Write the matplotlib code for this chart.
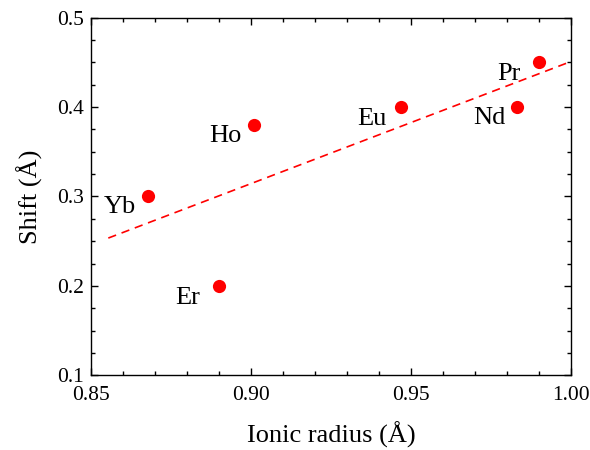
import matplotlib
matplotlib.use("Agg")
import matplotlib.pyplot as plt
from matplotlib.ticker import MultipleLocator, FormatStrFormatter

plt.rcParams['font.family'] = ['Liberation Serif', 'DejaVu Serif']

elements = ["Yb", "Er", "Ho", "Eu", "Nd", "Pr"]
ionic_radius = [0.868, 0.890, 0.901, 0.947, 0.983, 0.990]
shift = [0.30, 0.20, 0.38, 0.40, 0.40, 0.45]
# label offsets (points): dx to right edge, dy to baseline
label_dx = [-8.6, -13.7, -8.6, -10.5, -8.1, -13.5]
label_dy = [-11.7, -13.2, -12.5, -13.2, -12.5, -12.7]

fit_x = [0.8555, 1.0]
fit_y = [0.2535, 0.451]

fig = plt.figure(figsize=(5.9, 4.5), dpi=100)
ax = fig.add_axes([0.1537, 0.166, 0.8141, 0.7947])

ax.plot(fit_x, fit_y, color='#ff0000', lw=1.2, linestyle=(0, (5, 3.5)), zorder=2)
ax.plot(ionic_radius, shift, 'o', color='#ff0000', markersize=9.5, markeredgewidth=0, zorder=3)

for el, x, y, dx, dy in zip(elements, ionic_radius, shift, label_dx, label_dy):
    ax.annotate(el, (x, y), xytext=(dx, dy), textcoords='offset points',
                ha='right', va='baseline', fontsize=19)

ax.set_xlim(0.85, 1.00)
ax.set_ylim(0.1, 0.5)
ax.xaxis.set_major_locator(MultipleLocator(0.05))
ax.xaxis.set_minor_locator(MultipleLocator(0.01))
ax.yaxis.set_major_locator(MultipleLocator(0.1))
ax.yaxis.set_minor_locator(MultipleLocator(0.025))
ax.xaxis.set_major_formatter(FormatStrFormatter('%.2f'))
ax.yaxis.set_major_formatter(FormatStrFormatter('%.1f'))

ax.tick_params(which='both', direction='in', top=True, right=True, width=1.0, labelsize=15.5, colors='black')
ax.tick_params(which='major', length=5)
ax.tick_params(which='minor', length=3)
ax.tick_params(axis='x', which='major', pad=7.5)
ax.tick_params(axis='y', which='major', pad=5)
for s in ax.spines.values():
    s.set_linewidth(1.0)

ax.set_xlabel("Ionic radius (Å)", fontsize=19, labelpad=12)
ax.set_ylabel("Shift (Å)", fontsize=19, labelpad=10)

fig.savefig("out.png", dpi=100)
